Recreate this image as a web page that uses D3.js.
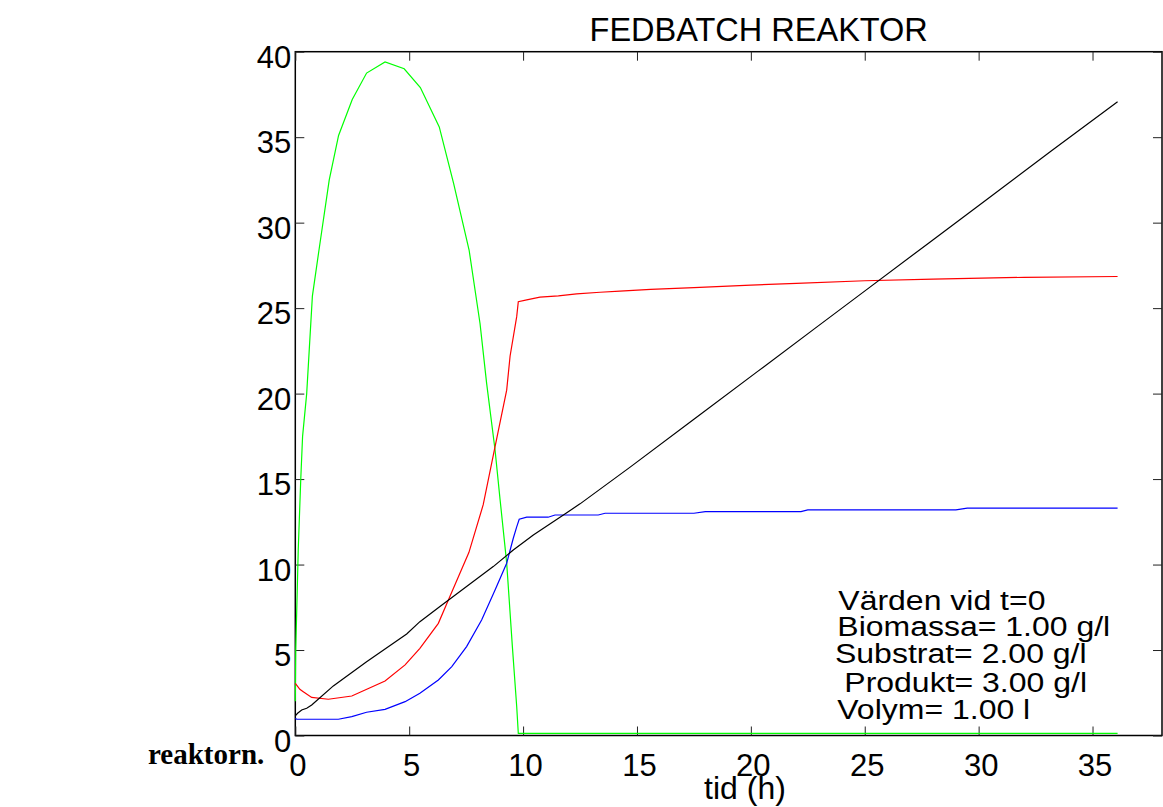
<!DOCTYPE html>
<html>
<head>
<meta charset="utf-8">
<script src="https://cdn.jsdelivr.net/npm/d3@7"></script>
<style>
  html, body { margin: 0; padding: 0; background: #fff; }
  svg { display: block; }
  text { font-family: "Liberation Sans", Arial, Helvetica, sans-serif; fill: #000; }
</style>
</head>
<body>
<svg id="chart" width="1163" height="807"></svg>
<script>
// ---- data ----
const title = "FEDBATCH REAKTOR";
const xLabel = "tid (h)";
const sideNote = "reaktorn.";
const xTicks = [0, 5, 10, 15, 20, 25, 30, 35];
const yTicks = [0, 5, 10, 15, 20, 25, 30, 35, 40];
const legendLines = ["Värden vid t=0", "Biomassa= 1.00 g/l", "Substrat= 2.00 g/l", "Produkt= 3.00 g/l", "Volym= 1.00 l"];

// Substrat (green)
const substratT = [0, 0.02, 0.13, 0.24, 0.32, 0.5, 0.75, 1.04, 1.49, 1.9, 2.5, 3.13, 3.94, 4.78, 5.49, 6.32, 6.95, 7.63, 8.11, 8.4, 8.77, 8.99, 9.28, 9.53, 9.72, 9.79, 36.1];
const substratV = [2.0, 5.0, 10.9, 15.0, 17.5, 20.0, 25.7, 28.4, 32.5, 35.1, 37.2, 38.75, 39.4, 39.0, 37.9, 35.6, 32.3, 28.4, 24.1, 20.6, 16.7, 13.8, 10.1, 5.2, 1.7, 0.13, 0.13];

// Produkt (red)
const produktT = [0, 0.2, 0.35, 0.72, 1.45, 2.48, 3.94, 4.82, 5.47, 6.28, 6.72, 7.62, 8.25, 8.77, 9.28, 9.43, 9.72, 9.79, 10.16, 10.74, 11.55, 12.35, 13.38, 14.25, 15.6, 17.5, 20.0, 22.0, 25.0, 28.0, 32.0, 36.1];
const produktV = [3.05, 2.7, 2.56, 2.23, 2.12, 2.31, 3.19, 4.13, 5.1, 6.56, 7.93, 10.7, 13.5, 16.9, 20.2, 22.2, 24.5, 25.38, 25.48, 25.64, 25.72, 25.83, 25.93, 26.0, 26.1, 26.2, 26.35, 26.45, 26.6, 26.7, 26.8, 26.85];

// Biomassa (blue)
const biomassaT = [0, 0.07, 1.89, 2.48, 3.13, 3.94, 4.82, 5.47, 6.28, 6.87, 7.52, 8.18, 8.77, 9.28, 9.57, 9.72, 9.83, 10.16, 11.1, 11.4, 13.3, 13.6, 17.5, 18.0, 22.2, 22.5, 29.0, 29.5, 36.1];
const biomassaV = [1.0, 0.95, 0.95, 1.1, 1.36, 1.53, 1.98, 2.47, 3.25, 4.03, 5.2, 6.76, 8.51, 10.08, 11.54, 12.2, 12.65, 12.77, 12.77, 12.9, 12.9, 13.0, 13.0, 13.1, 13.1, 13.2, 13.2, 13.3, 13.3];

// Volym (black)
const volymT = [0, 0.1, 0.28, 0.5, 0.72, 1.67, 3.13, 4.89, 5.47, 6.35, 7.52, 8.69, 9.57, 10.45, 11.77, 12.5, 14.7, 17.5, 20.3, 22.8, 25.2, 27.8, 30.3, 33.2, 36.1];
const volymV = [1.15, 1.3, 1.49, 1.59, 1.78, 2.9, 4.32, 5.94, 6.66, 7.54, 8.71, 9.88, 10.85, 11.73, 12.9, 13.55, 15.7, 18.5, 21.3, 23.8, 26.2, 28.8, 31.3, 34.2, 37.07];

const seriesColors = ["#00ff00", "#ff0000", "#0000ff", "#000000"];

// ---- layout ----
const svg = d3.select("#chart");
const L = 295.3, R = 1162, T = 51.7, B = 735.5;
const x = d3.scaleLinear().domain([0, 38.05]).range([L, R]);
const y = d3.scaleLinear().domain([0, 40]).range([B, T]);

// frame
svg.append("rect").attr("x", L).attr("y", T).attr("width", R - L).attr("height", B - T)
  .attr("fill", "none").attr("stroke", "#000").attr("stroke-width", 1.5);

const tickLen = 9;
const gx = svg.append("g").attr("transform", `translate(0,${B})`)
  .call(d3.axisBottom(x).tickValues(xTicks).tickSize(-tickLen).tickPadding(18).tickFormat(d3.format("d")));
const gxt = svg.append("g").attr("transform", `translate(0,${T})`)
  .call(d3.axisTop(x).tickValues(xTicks).tickSize(-tickLen).tickFormat(""));
const gy = svg.append("g").attr("transform", `translate(${L},0)`)
  .call(d3.axisLeft(y).tickValues(yTicks).tickSize(-tickLen).tickPadding(4).tickFormat(d3.format("d")));
const gyr = svg.append("g").attr("transform", `translate(${R},0)`)
  .call(d3.axisRight(y).tickValues(yTicks).tickSize(-tickLen).tickFormat(""));

[gx, gxt, gy, gyr].forEach(g => {
  g.select(".domain").remove();
  g.selectAll(".tick line").attr("stroke", "#222").attr("stroke-width", 1);
  g.selectAll("text").style("font-family", "'Liberation Sans', Arial, sans-serif").attr("fill", "#000");
});
gx.selectAll("text").style("font-size", "31px").attr("dy", "0.71em").attr("dx", 2);
gy.selectAll("text").style("font-size", "31px").attr("dy", "0.5em");

// series
const series = [
  [substratT, substratV],
  [produktT, produktV],
  [biomassaT, biomassaV],
  [volymT, volymV]
];
const line = d3.line().x(d => x(d[0])).y(d => y(d[1]));
series.forEach((s, i) => {
  const pts = s[0].map((t, j) => [t, s[1][j]]);
  svg.append("path").datum(pts).attr("d", line)
    .attr("fill", "none").attr("stroke", seriesColors[i]).attr("stroke-width", 1.2);
});

// title
svg.append("text").attr("x", 758.7).attr("y", 41).attr("text-anchor", "middle")
  .style("font-size", "32.5px").text(title);

// x label
svg.append("text").attr("x", 745).attr("y", 799).attr("text-anchor", "middle")
  .style("font-size", "32px").text(xLabel);

// legend text (value at t=0)
const legX = [838.3, 837.3, 835, 844.3, 837.3];
const legY = [610, 635.7, 662.7, 691.7, 719];
legendLines.forEach((s, i) => {
  svg.append("text")
    .attr("transform", `translate(${legX[i]},${legY[i]}) scale(1,0.88)`)
    .style("font-size", "32px").text(s);
});

// side note
svg.append("text").attr("x", 148).attr("y", 764)
  .style("font-family", "'Liberation Serif', 'Times New Roman', serif")
  .style("font-weight", "bold").style("font-size", "29px").text(sideNote);
</script>
</body>
</html>
